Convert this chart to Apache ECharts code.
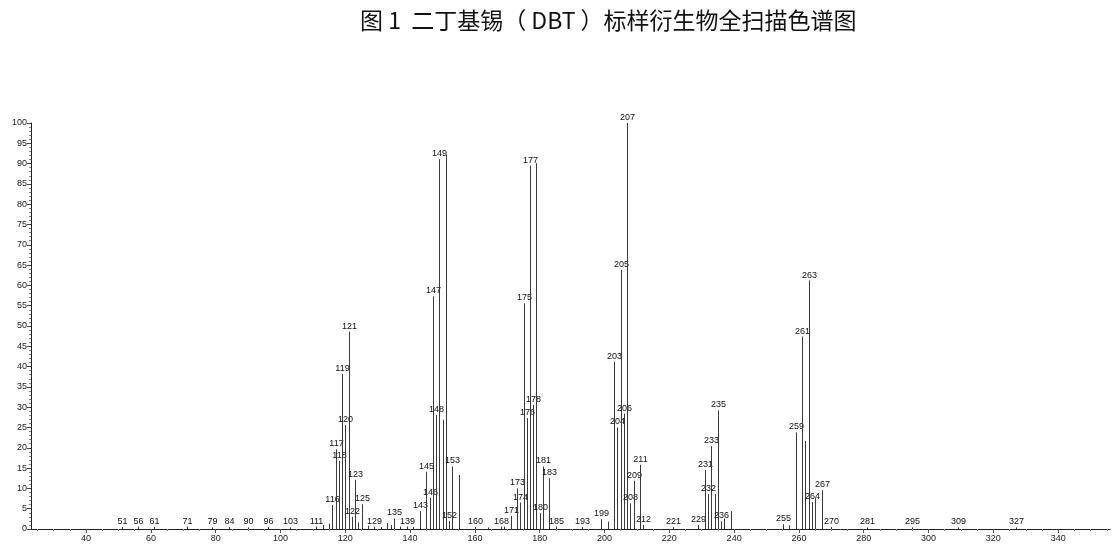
<!DOCTYPE html>
<html>
<head>
<meta charset="utf-8">
<title>DBT 全扫描色谱图</title>
<script src="https://cdn.jsdelivr.net/npm/echarts@6/dist/echarts.min.js"></script>
<style>
html, body { margin: 0; padding: 0; background: #fff; }
#chart { width: 1113px; height: 549px; }
</style>
</head>
<body>
<div id="chart"></div>
<script>
/*** 质谱数据 (m/z, 相对丰度) ***/
var mzList = [51, 56, 61, 71, 79, 84, 90, 96, 103, 111,
    113, 115, 116, 117, 118, 119, 120, 121, 122, 123, 124, 125, 127, 129, 131, 133, 134, 135, 137, 139,
    141, 143, 145, 146, 147, 148, 149, 150, 151, 152, 153, 155, 160, 164, 168, 169,
    171, 173, 174, 175, 176, 177, 178, 179, 180, 181, 183, 185, 193,
    199, 201, 203, 204, 205, 206, 207, 208, 209, 211, 212, 221,
    229, 231, 232, 233, 234, 235, 236, 237, 239,
    255, 257, 259, 261, 262, 263, 264, 265, 267, 270, 281, 295, 309, 327];
var abundList = [0.5, 0.6, 0.5, 0.6, 0.4, 0.5, 0.4, 0.5, 0.4, 0.6,
    1.0, 1.3, 5.9, 19.6, 16.8, 38.2, 25.6, 48.6, 3.0, 12.1, 1.6, 6.1, 0.8, 0.6, 0.5, 1.5, 1.0, 2.6, 0.6, 0.6,
    0.5, 4.4, 14.1, 7.7, 57.3, 28.1, 91.1, 26.9, 92.2, 2.0, 15.4, 13.3, 0.5, 0.4, 0.6, 0.6,
    3.2, 10.0, 6.5, 55.6, 27.3, 89.5, 30.6, 90.1, 3.9, 15.4, 12.5, 0.6, 0.5,
    2.4, 1.8, 41.2, 25.0, 63.8, 28.4, 100, 6.3, 11.9, 15.8, 1.0, 0.5,
    1.0, 14.5, 8.6, 20.4, 8.6, 29.2, 1.9, 2.6, 4.4,
    1.2, 0.9, 23.8, 47.4, 21.7, 61.2, 6.6, 7.6, 9.5, 0.5, 0.4, 0.4, 0.4, 0.4];
// 标注了质荷比的峰
var labeledMz = [51, 56, 61, 71, 79, 84, 90, 96, 103, 111,
    116, 117, 118, 119, 120, 121, 122, 123, 125, 129, 135, 139,
    143, 145, 146, 147, 148, 149, 152, 153, 160, 168,
    171, 173, 174, 175, 176, 177, 178, 180, 181, 183, 185, 193,
    199, 203, 204, 205, 206, 207, 208, 209, 211, 212, 221,
    229, 231, 232, 233, 235, 236, 255, 259, 261, 263, 264, 267, 270, 281, 295, 309, 327];
// 坐标轴刻度
var xTickValues = [40, 60, 80, 100, 120, 140, 160, 180, 200, 220, 240, 260, 280, 300, 320, 340];
var xMinorValues = [25, 30, 35, 45, 50, 55, 65, 70, 75, 85, 90, 95, 105, 110, 115, 125, 130, 135,
    145, 150, 155, 165, 170, 175, 185, 190, 195, 205, 210, 215, 225, 230, 235, 245, 250, 255,
    265, 270, 275, 285, 290, 295, 305, 310, 315, 325, 330, 335, 345, 350, 355];

var peakData = [];
for (var i = 0; i < mzList.length; i++) {
    peakData.push([mzList[i], abundList[i], labeledMz.indexOf(mzList[i]) >= 0 ? 1 : 0]);
}

var fontLatin = 'Liberation Sans, Arial, sans-serif';

function renderPeak(params, api) {
    var mz = api.value(0);
    var top = api.coord([mz, api.value(1)]);
    var base = api.coord([mz, 0]);
    var px = Math.round(base[0]) + 0.5;
    var children = [{
        type: 'line',
        shape: { x1: px, y1: base[1], x2: px, y2: top[1] },
        style: { stroke: '#3a3a3a', lineWidth: 1 }
    }];
    if (api.value(2)) {
        children.push({
            type: 'text',
            x: px,
            y: top[1] - 1,
            style: {
                text: String(mz),
                fill: '#111',
                font: '9px ' + fontLatin,
                textAlign: 'center',
                textVerticalAlign: 'bottom'
            }
        });
    }
    return { type: 'group', children: children };
}

var option = {
    animation: false,
    backgroundColor: '#fff',
    title: {
        text: '图 1  二丁基锡（ DBT ）标样衍生物全扫描色谱图',
        left: 355,
        top: 4,
        textStyle: {
            fontFamily: 'Noto Sans CJK SC',
            fontSize: 23,
            fontWeight: 'normal',
            color: '#111'
        }
    },
    grid: {
        left: 31,
        right: 3,
        top: 123,
        bottom: 20
    },
    xAxis: [{
        type: 'value',
        min: 23,
        max: 356,
        axisLine: { lineStyle: { color: '#222', width: 1 } },
        axisTick: { customValues: xTickValues, length: 4, lineStyle: { color: '#555' } },
        axisLabel: { customValues: xTickValues, fontSize: 9, fontFamily: fontLatin, color: '#222', margin: 5 },
        splitLine: { show: false }
    }, {
        type: 'value',
        min: 23,
        max: 356,
        position: 'bottom',
        axisLine: { show: false },
        axisTick: { customValues: xMinorValues, length: 2, lineStyle: { color: '#888' } },
        axisLabel: { show: false },
        splitLine: { show: false }
    }],
    yAxis: {
        type: 'value',
        min: 0,
        max: 100,
        interval: 5,
        axisLine: { show: true, lineStyle: { color: '#222', width: 1 } },
        axisTick: { show: true, length: 4, lineStyle: { color: '#444' } },
        minorTick: { show: true, splitNumber: 5, length: 2, lineStyle: { color: '#888' } },
        axisLabel: { fontSize: 9, fontFamily: fontLatin, color: '#222', margin: 4 },
        splitLine: { show: false }
    },
    series: [{
        type: 'custom',
        xAxisIndex: 0,
        renderItem: renderPeak,
        encode: { x: 0, y: 1 },
        data: peakData,
        clip: false
    }]
};

var myChart = echarts.init(document.getElementById('chart'), null, { renderer: 'canvas' });
myChart.setOption(option);
</script>
</body>
</html>
